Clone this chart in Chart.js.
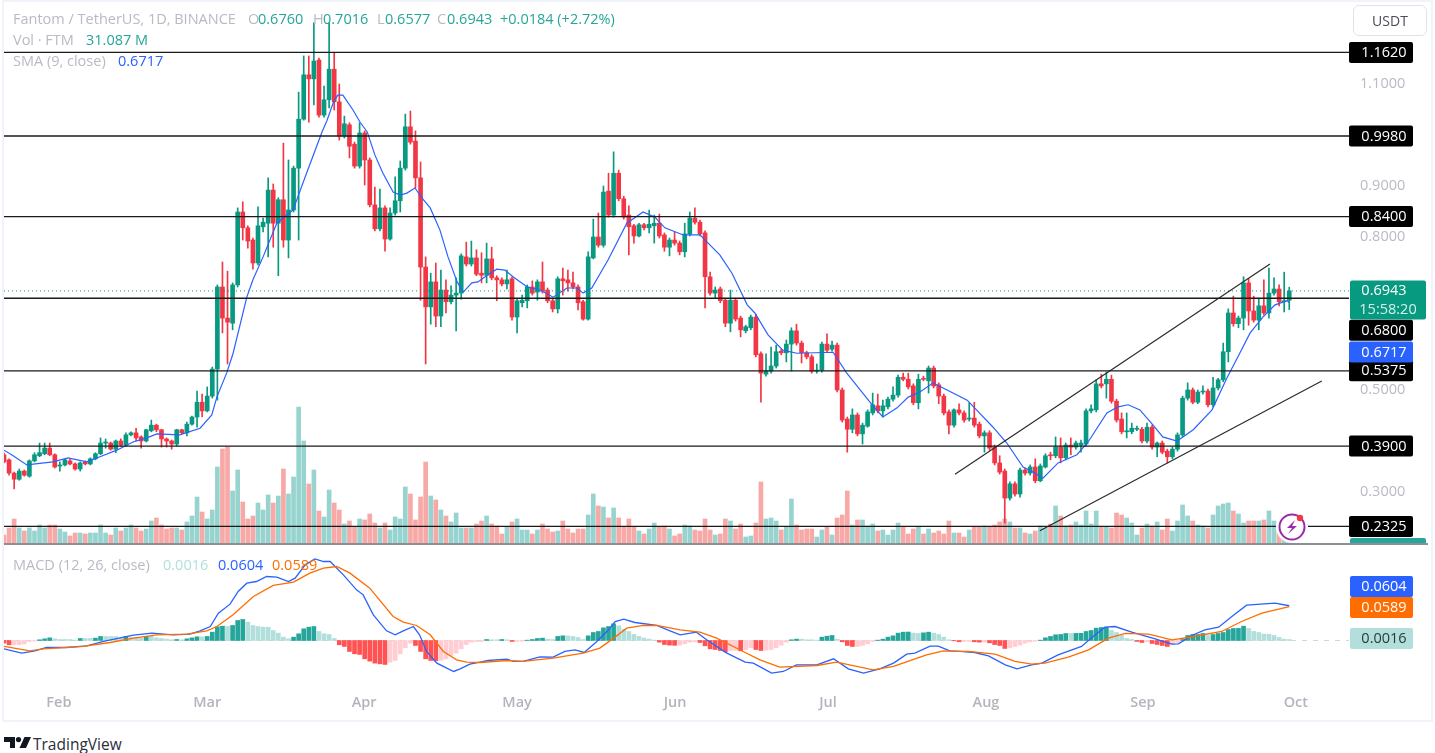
<!DOCTYPE html>
<html>
<head>
<meta charset="utf-8">
<title>Fantom / TetherUS</title>
<script src="https://cdn.jsdelivr.net/npm/chart.js@4/dist/chart.umd.min.js"></script>
<style>
  html, body { margin: 0; padding: 0; background: #fff; }
  body { position: relative; width: 1435px; height: 753px; overflow: hidden; font-family: "Open Sans", sans-serif; }
  canvas { position: absolute; left: 0; }
  #priceChart { top: 0; }
  #macdChart { top: 545px; }
  #frame { position: absolute; left: 2px; top: 0; width: 1427px; height: 718px; border: 2px solid #f0f3fa; pointer-events: none; }
  #divider { position: absolute; left: 4px; top: 543px; width: 1424px; height: 2px; background: #8d8f94; }
  .t { position: absolute; font-size: 14.5px; line-height: 20px; white-space: nowrap; }
  .g { color: #b8bbc4; }
  .teal { color: #26a69a; }
  .blue { color: #2962ff; }
  #usdt { position: absolute; left: 1353px; top: 5px; width: 72px; height: 29px; border: 1px solid #e0e3eb; border-radius: 6px; text-align: center; line-height: 29px; font-size: 14px; color: #4a4d57; }
  #bolt { position: absolute; left: 1275px; top: 510px; }
  #logo { position: absolute; left: 4px; top: 737px; }
  #brand { position: absolute; left: 33px; top: 733px; font-size: 15.5px; line-height: 22px; color: #2a2e39; }
</style>
</head>
<body>
<canvas id="priceChart" width="1435" height="544"></canvas>
<canvas id="macdChart" width="1435" height="177"></canvas>
<div id="frame"></div>
<div id="divider"></div>

<span class="t g" style="left:13px;top:9px">Fantom / TetherUS, 1D, BINANCE</span>
<span class="t g" style="left:248px;top:9px">O</span><span class="t teal" style="left:258px;top:9px">0.6760</span>
<span class="t g" style="left:313px;top:9px">H</span><span class="t teal" style="left:323px;top:9px">0.7016</span>
<span class="t g" style="left:377px;top:9px">L</span><span class="t teal" style="left:385px;top:9px">0.6577</span>
<span class="t g" style="left:437px;top:9px">C</span><span class="t teal" style="left:447px;top:9px">0.6943</span>
<span class="t teal" style="left:500px;top:9px">+0.0184 (+2.72%)</span>
<span class="t g" style="left:13px;top:30px">Vol · FTM</span><span class="t teal" style="left:86px;top:30px">31.087 M</span>
<span class="t g" style="left:13px;top:51px">SMA (9, close)</span><span class="t blue" style="left:118px;top:51px">0.6717</span>
<span class="t g" style="left:13px;top:555px">MACD (12, 26, close)</span>
<span class="t" style="left:163px;top:555px;color:#b2dfdb">0.0016</span>
<span class="t blue" style="left:218px;top:555px">0.0604</span>
<span class="t" style="left:272px;top:555px;color:#ff6d00">0.0589</span>
<div id="usdt">USDT</div>

<svg id="bolt" width="34" height="34" viewBox="0 0 34 34">
  <circle cx="17" cy="17" r="16" fill="#fff"/>
  <circle cx="17" cy="17" r="12.5" fill="#fff" stroke="#9c27b0" stroke-width="2"/>
  <path d="M20 10l-8 8h5l-4 6 9-8h-5z" fill="#9c27b0"/>
  <circle cx="25" cy="8" r="3.2" fill="#f23645"/>
</svg>
<svg id="logo" width="27" height="12" viewBox="0 0 27 12">
  <path d="M0 0h11v11H6V5H0z" fill="#131722"/>
  <circle cx="14.5" cy="2.6" r="2.6" fill="#131722"/>
  <path d="M20.5 0H27l-5 11h-6.5z" fill="#131722"/>
</svg>
<div id="brand">TradingView</div>

<script>
// candles, daily
const opens = [
  .373,.363,.337,.325,.341,.331,.361,.371,.375,.386,.373,.351,.353,.361,.355,.345,.359,.355,.365,.375,
  .396,.396,.384,.400,.392,.412,.416,.408,.400,.420,.431,.422,.404,.400,.394,.422,.416,.433,.447,.476,
  .459,.488,.541,.702,.641,.631,.706,.849,.818,.794,.749,.820,.827,.892,.827,.873,.794,.853,.935,1.031,
  1.118,1.110,1.147,1.039,1.069,1.129,1.065,.998,1.020,.982,.939,1.004,.951,.863,.816,.857,.796,.847,.871,.935,
  1.016,.988,.916,.741,.663,.712,.645,.696,.673,.686,.690,.761,.747,.759,.729,.725,.757,.720,.716,.708,
  .718,.643,.671,.675,.702,.692,.712,.696,.675,.659,.718,.716,.710,.702,.673,.639,.759,.800,.784,.890,
  .843,.925,.875,.843,.822,.802,.824,.818,.822,.827,.804,.780,.794,.788,.771,.806,.837,.829,.808,.722,
  .690,.698,.676,.631,.676,.641,.616,.622,.643,.571,.531,.537,.547,.576,.573,.590,.616,.592,.573,.565,
  .537,.539,.590,.580,.588,.500,.443,.423,.451,.414,.429,.455,.469,.459,.467,.482,.490,.525,.521,.508,
  .475,.523,.518,.543,.510,.488,.457,.431,.461,.455,.443,.445,.433,.410,.416,.388,.357,.341,.288,.316,
  .296,.343,.337,.349,.322,.349,.373,.371,.388,.367,.392,.388,.392,.394,.459,.461,.512,.512,.521,.478,
  .443,.418,.418,.423,.423,.400,.427,.388,.396,.380,.369,.384,.412,.484,.500,.476,.496,.498,.471,.504,
  .520,.575,.651,.630,.641,.710,.655,.637,.665,.651,.690,.698,.673,.676
];
const highs = [
  .377,.365,.339,.345,.343,.363,.377,.396,.396,.396,.375,.359,.365,.365,.357,.359,.361,.367,.377,.406,
  .404,.398,.402,.404,.416,.418,.425,.410,.423,.441,.433,.423,.406,.402,.423,.423,.437,.449,.498,.492,
  .506,.545,.706,.751,.733,.710,.857,.869,.822,.798,.859,.837,.916,.904,.877,.984,.951,.939,1.084,1.155,
  1.155,1.220,1.151,1.096,1.220,1.161,1.100,1.037,1.024,.986,1.024,1.008,.955,.898,.894,.861,.857,.918,.949,1.041,
  1.047,1.008,.947,.761,.729,.749,.735,.716,.704,.720,.767,.790,.792,.775,.769,.788,.780,.724,.720,.735,
  .722,.678,.686,.706,.714,.716,.751,.700,.678,.722,.739,.735,.731,.706,.676,.771,.835,.847,.900,.925,
  .967,.931,.880,.861,.825,.827,.827,.853,.843,.845,.808,.798,.810,.792,.827,.849,.857,.833,.812,.731,
  .702,.702,.680,.696,.680,.645,.627,.647,.649,.575,.571,.584,.588,.580,.598,.622,.629,.596,.576,.569,
  .551,.594,.610,.596,.592,.504,.447,.463,.455,.435,.461,.494,.492,.480,.486,.506,.529,.533,.533,.512,
  .531,.527,.547,.547,.514,.492,.461,.463,.473,.459,.475,.476,.437,.420,.420,.392,.371,.345,.320,.320,
  .347,.347,.353,.365,.355,.375,.378,.408,.406,.396,.406,.400,.402,.463,.471,.520,.531,.535,.529,.482,
  .455,.455,.435,.429,.427,.435,.431,.398,.400,.384,.388,.416,.488,.514,.504,.500,.508,.502,.525,.523,
  .592,.659,.684,.645,.722,.718,.684,.680,.716,.739,.720,.706,.731,.7016
];
const lows = [
  .357,.333,.306,.323,.331,.329,.359,.369,.373,.371,.347,.341,.351,.353,.343,.341,.353,.353,.363,.373,
  .386,.382,.377,.390,.390,.410,.400,.386,.398,.418,.418,.388,.388,.384,.390,.414,.410,.431,.427,.447,
  .457,.484,.480,.612,.551,.618,.702,.794,.778,.737,.745,.810,.761,.780,.724,.780,.759,.849,.794,1.029,
  1.025,1.059,1.035,1.035,1.053,1.049,.990,.994,.955,.935,.935,.902,.859,.812,.812,.772,.794,.843,.849,.931,
  .982,.896,.676,.551,.629,.624,.624,.651,.669,.616,.678,.743,.743,.724,.710,.710,.716,.675,.704,.698,
  .637,.612,.663,.661,.686,.676,.690,.671,.653,.651,.686,.694,.698,.657,.637,.637,.757,.780,.780,.839,
  .839,.871,.835,.765,.788,.800,.814,.808,.788,.798,.772,.763,.784,.765,.761,.802,.825,.802,.661,.686,
  .680,.671,.624,.614,.635,.604,.612,.618,.565,.476,.527,.533,.543,.569,.555,.537,.588,.553,.561,.533,
  .533,.535,.575,.576,.496,.437,.378,.416,.410,.394,.427,.451,.455,.447,.463,.478,.486,.518,.502,.471,
  .463,.518,.494,.504,.473,.451,.414,.427,.451,.437,.439,.427,.406,.378,.382,.353,.335,.239,.284,.292,
  .290,.333,.333,.318,.320,.347,.363,.367,.357,.363,.373,.384,.378,.390,.455,.457,.504,.484,.474,.437,
  .414,.406,.414,.420,.396,.396,.384,.369,.375,.357,.365,.380,.408,.480,.473,.473,.492,.467,.467,.500,
  .516,.555,.625,.622,.618,.627,.633,.618,.647,.641,.686,.665,.653,.6577
];
const closes = [
  .359,.337,.325,.341,.333,.361,.373,.377,.386,.373,.349,.353,.363,.355,.345,.357,.355,.365,.375,.396,
  .398,.384,.400,.392,.412,.416,.406,.400,.422,.431,.422,.404,.400,.394,.422,.416,.433,.447,.476,.459,
  .488,.541,.702,.641,.633,.706,.849,.818,.792,.749,.822,.829,.892,.827,.873,.794,.853,.935,1.031,1.118,
  1.110,1.145,1.039,1.069,1.129,1.065,.998,1.022,.978,.939,1.004,.951,.863,.816,.857,.796,.847,.871,.935,1.016,
  .986,.916,.741,.663,.712,.645,.696,.673,.686,.690,.763,.747,.759,.727,.725,.757,.720,.716,.708,.716,
  .643,.675,.676,.702,.690,.712,.694,.675,.659,.718,.714,.710,.702,.671,.639,.761,.800,.784,.888,.843,
  .925,.875,.839,.820,.802,.824,.818,.825,.827,.802,.780,.794,.788,.771,.806,.837,.829,.806,.722,.690,
  .696,.675,.631,.676,.639,.618,.624,.643,.569,.533,.537,.547,.575,.573,.590,.616,.592,.573,.565,.537,
  .539,.590,.578,.588,.500,.441,.423,.451,.414,.431,.457,.471,.459,.469,.482,.490,.525,.521,.506,.475,
  .521,.521,.543,.508,.488,.455,.431,.461,.455,.441,.445,.431,.410,.416,.386,.357,.339,.288,.316,.296,
  .343,.337,.349,.322,.351,.371,.371,.388,.367,.392,.388,.396,.396,.459,.463,.512,.508,.521,.478,.441,
  .418,.420,.425,.425,.400,.427,.388,.396,.378,.369,.384,.412,.484,.500,.476,.496,.498,.471,.504,.520,
  .575,.651,.630,.641,.710,.655,.637,.665,.651,.690,.698,.673,.675,.6943
];
// volume, in units of roughly 15.5M
const volumes = [
  9,16,25,16,13,16,13,19,16,19,19,15,12,8,11,11,10,11,11,19,
  11,9,16,13,16,19,16,13,15,23,26,19,15,16,16,14,22,28,47,32,
  25,34,77,95,97,53,74,42,25,28,41,34,49,41,48,75,50,67,137,103,
  60,74,33,27,54,41,34,20,23,17,25,24,30,21,16,21,14,27,25,57,
  50,24,47,82,48,44,34,28,22,31,16,16,16,20,23,28,20,18,
  10,17,22,25,14,14,10,14,20,15,12,13,23,15,11,15,15,29,50,38,
  37,26,36,26,17,25,17,13,10,15,21,17,18,15,8,10,19,18,14,13,
  25,14,9,10,25,23,15,20,7,8,21,62,25,26,23,14,17,45,19,14,
  15,15,7,14,17,9,26,29,53,19,24,24,18,20,13,14,9,14,21,17,
  10,15,17,10,15,11,13,10,23,11,11,7,14,17,17,18,17,19,22,
  25,22,16,16,11,10,13,18,16,20,38,28,18,19,22,19,33,20,33,17,
  17,16,31,29,26,21,9,16,20,18,22,14,25,13,23,39,28,23,19,18,
  16,29,38,40,41,33,30,21,23,23,23,24,33,23,13,5,2
];
const smaDays = [
  0,1.8,4.5,9.6,12.6,16.3,18.9,22.2,25.4,28.1,30.1,34.6,38.6,40.9,41.9,43.9,45.1,47.8,49,51,53.7,56.9,59.3,62.6,63.6,
  64.8,65.7,66.7,68.7,70.1,71.5,73,74.6,76.6,78,79.3,80.9,82.3,83.9,85.8,87.4,89.2,90.4,92.1,93.3,95.1,97,98.6,100.2,103,
  105.5,108.1,110.8,112.8,114,115.7,118.9,122.6,125.8,128.1,130.1,133.7,137,138.4,140.9,143.3,146.3,147.8,150.4,153.3,156.1,163.2,165.9,170.9,173,
  175.8,178,180.3,182.9,186.8,189.6,194.7,197.4,200.6,202.6,204.5,207.5,211.2,213.4,217.1,219.3,221.3,223.6,226.2,228.1,230.9,234.1,237.8,240.7,242.9,
  245.3,247.8,250.2,252.6,253
];
const smaValues = [
  .382,.371,.353,.359,.367,.359,.369,.382,.398,.406,.414,.412,.425,.451,.486,.535,.572,.682,.716,.761,.827,.853,.918,1.006,1.029,
  1.063,1.078,1.078,1.049,1.025,1.006,.961,.925,.888,.882,.886,.896,.876,.857,.814,.761,.712,.692,.710,.712,.725,.737,.735,.722,.702,
  .696,.682,.700,.700,.690,.700,.755,.827,.849,.839,.818,.804,.804,.790,.765,.729,.667,.651,.608,.578,.572,.574,.533,.471,.447,
  .465,.486,.496,.514,.494,.480,.427,.396,.349,.339,.327,.357,.373,.398,.455,.467,.471,.461,.431,.408,.400,.422,.461,.523,.565,
  .612,.643,.667,.675,.6717
];

// horizontal levels and the channel drawn by hand on the chart
const levels = [1.162, .998, .84, .68, .5375, .39, .2325];
const lastPrice = .6943;
const channelUpperDays = [187.2, 249.2];
const channelUpperPrices = [.335, .747];
const channelLowerDays = [203.9, 259.4];
const channelLowerPrices = [.224, .5176];
const priceTicks = [1.1, .9, .8, .5, .3];

// MACD panel
const histValues = [
  -.0046,-.0075,-.0075,-.0075,-.0058,-.0017,-.0012,.0012,.0029,.0046,.0029,.0017,.0017,.0017,.0006,.0035,.0035,.0035,.0041,.0070,
  .0070,.0070,.0070,.0046,.0070,.0052,.0052,.0041,.0070,.0070,.0046,.0035,.0023,.0012,.0017,.0012,.0029,.0046,.0064,.0064,
  .0070,.0145,.0238,.0249,.0243,.0261,.0348,.0365,.0319,.0261,.0243,.0232,.0232,.0174,.0128,.0058,.0029,.0058,.0116,.0203,
  .0232,.0243,.0157,.0116,.0104,.0035,-.0075,-.0104,-.0191,-.0232,-.0243,-.0319,-.0359,-.0394,-.0406,-.0417,-.0377,-.0348,-.0232,-.0128,
  -.0046,-.0087,-.0191,-.0319,-.0348,-.0354,-.0348,-.0319,-.0261,-.0220,-.0145,-.0070,-.0029,-.0017,
  -.0017,.0017,.0012,.0012,.0017,.0012,-.0017,-.0017,-.0012,.0006,
  .0017,.0035,.0041,.0023,.0017,.0070,.0081,.0081,.0070,.0052,
  .0017,.0081,.0139,.0157,.0220,.0243,.0290,.0255,.0197,.0157,
  .0104,.0070,.0041,.0023,.0006,-.0029,-.0070,-.0081,-.0084,-.0081,
  -.0058,-.0029,-.0023,-.0035,-.0093,-.0145,-.0157,-.0174,-.0197,-.0174,
  -.0174,-.0179,-.0157,-.0128,-.0157,-.0174,-.0170,-.0157,-.0128,
  -.0081,-.0029,.0012,.0023,.0023,.0012,.0012,.0006,.0058,.0075,
  .0087,.0023,-.0023,-.0087,-.0104,-.0104,-.0087,-.0058,-.0017,.0006,
  .0023,.0058,.0081,.0128,.0145,.0147,.0128,.0122,.0133,.0145,
  .0128,.0104,.0058,.0012,-.0006,-.0023,
  -.0017,-.0017,-.0023,-.0029,-.0029,-.0041,-.0070,-.0087,-.0139,-.0128,-.0104,-.0081,-.0046,-.0023,-.0012,
  .0006,.0046,.0070,.0099,.0104,.0122,.0122,.0123,.0124,.0157,.0174,.0214,.0226,.0227,
  .0174,.0139,.0087,.0035,.0017,-.0017,-.0035,-.0023,-.0052,-.0070,-.0087,-.0104,-.0070,-.0035,.0017,.0087,.0104,.0105,.0122,.0087,
  .0104,.0122,.0139,.0191,.0209,.0210,.0249,.0209,.0157,.0139,.0110,.0109,.0087,.0052,.0023,.0016
];
const macdDays = [
  0,3.5,6.1,8.4,12.3,16.3,19.6,23.8,25.5,29.1,33.3,36.6,38.6,40.6,42.2,44.5,46.1,47.8,49.7,51.7,53.7,56,57.3,59.3,61.2,62.9,64.2,
  66.8,69.4,70.7,72.7,75.3,77,78.6,80.6,81.8,83.2,85.2,88.5,89.8,91.7,93.7,95.3,99,100.3,102.2,105.5,108.1,110.4,112.4,114.2,116.7,119,120.3,122,124.2,
  128.5,131.1,133.1,136.3,138.3,142.3,145.9,147.5,151.1,153.4,156,160,163.3,166.2,169.2,172.4,175.1,177.7,179.3,182.3,183.9,186.2,188.2,
  191.1,193.8,197.1,199.4,202.3,204.3,207.5,212.1,214.8,216.7,218.7,222,226.6,229.9,231.2,233.8,236.4,239.1,241.7,244.6,250.2,253
];
const macdValues = [
  -.0145,-.0220,-.0180,-.0122,-.0122,-.0093,-.0017,.0064,.0093,.0128,.0099,.0110,.0168,.0243,.0475,.0632,.0852,.0997,.1026,.1113,.1101,.1026,.1084,.1316,.1420,.1374,.1374,
  .1142,.0881,.0794,.0446,.0168,.0099,.0168,.0243,.0099,-.0191,-.0394,-.0539,-.0493,-.0412,-.0377,-.0348,-.0325,-.0365,-.0365,-.0284,-.0290,-.0191,-.0162,-.0209,-.0017,.0186,.0330,.0371,.0313,
  .0261,.0168,.0099,.0145,.0012,-.0220,-.0377,-.0394,-.0568,-.0539,-.0423,-.0423,-.0319,-.0493,-.0568,-.0493,-.0394,-.0238,-.0220,-.0099,-.0099,-.0180,-.0191,
  -.0209,-.0267,-.0423,-.0493,-.0423,-.0394,-.0249,-.0104,.0099,.0232,.0243,.0145,.0029,-.0064,-.0058,.0087,.0186,.0232,.0417,.0614,.0649,.0604
];
const signalDays = [
  0,5.1,7.7,15.6,20.9,25.5,30.1,36,39.9,41.9,45.1,49.1,53,57,60.2,62.9,65.5,68.1,72,76.6,78.6,81.2,83.9,86.5,89.1,91.1,93.7,
  99,102.2,108.1,114,117.3,120,122.6,125.8,128.5,133.1,137,140.3,145.5,148.8,152.7,160,163.9,171.1,175.1,181.6,184.9,188.2,
  189.8,195.1,199,202.3,204.9,209.5,213.5,217.4,220.7,225.3,229.9,233.1,239.7,243.6,247.6,253
];
const signalValues = [
  -.0104,-.0180,-.0145,-.0104,-.0035,.0041,.0099,.0110,.0168,.0243,.0446,.0765,.0957,.1014,.1171,.1258,.1287,.1171,.0910,.0417,.0319,.0261,.0099,-.0191,-.0336,-.0377,-.0383,
  -.0348,-.0365,-.0307,-.0220,-.0133,.0041,.0214,.0261,.0261,.0186,.0145,.0041,-.0191,-.0336,-.0464,-.0435,-.0377,-.0510,-.0452,-.0249,-.0180,-.0191,
  -.0191,-.0238,-.0365,-.0412,-.0394,-.0290,-.0162,.0041,.0122,.0110,.0012,.0052,.0157,.0330,.0475,.0589
];
const monthDays = [10.8, 40, 70.9, 101, 132.1, 162.2, 193.3, 224.2, 254.3];
const monthLabels = ['Feb', 'Mar', 'Apr', 'May', 'Jun', 'Jul', 'Aug', 'Sep', 'Oct'];

const GREEN = '#089981';
const RED = '#f23645';
const FONT = '"Open Sans", sans-serif';
const X_MAX = 264.76;
const AXIS_W = 86;

Chart.defaults.animation = false;
Chart.defaults.font.family = FONT;

const pairs = (xs, ys) => xs.map((x, i) => ({ x, y: ys[i] }));
const across = v => [{ x: 0, y: v }, { x: X_MAX, y: v }];
const isUp = i => closes[i] >= opens[i];

function lineSet(data, color, width, order, yAxisID, extra) {
  return Object.assign({
    type: 'line', data, borderColor: color, borderWidth: width,
    pointRadius: 0, tension: 0, order, yAxisID
  }, extra || {});
}

function tag(ctx, x, y, w, h, fill) {
  ctx.fillStyle = fill;
  ctx.beginPath();
  ctx.roundRect(x, y, w, h, 2);
  ctx.fill();
}

function tagText(ctx, text, cx, y, color) {
  ctx.fillStyle = color;
  ctx.font = '14.5px ' + FONT;
  ctx.textAlign = 'center';
  ctx.textBaseline = 'middle';
  ctx.fillText(text, cx, y);
}

// black level labels, some pushed down so they don't overlap, as on the original
const levelShift = { 0.68: 32 };
const priceTags = {
  id: 'priceTags',
  afterDraw(chart) {
    const { ctx, scales } = chart;
    ctx.save();
    levels.forEach(v => {
      const y = scales.y.getPixelForValue(v) + (levelShift[v] || 0);
      tag(ctx, 1349, y - 10.5, 64, 21, '#000');
      tagText(ctx, v.toFixed(4), 1384, y + 0.5, '#fff');
    });
    const lastY = scales.y.getPixelForValue(lastPrice);
    tag(ctx, 1350, lastY - 10.5, 76, 39, '#089981');
    tagText(ctx, lastPrice.toFixed(4), 1384, lastY, '#fff');
    tagText(ctx, '15:58:20', 1388, lastY + 19, '#d6efe9');
    tag(ctx, 1349, 352 - 10.5, 64, 21, '#2962ff');
    tagText(ctx, smaValues[smaValues.length - 1].toFixed(4), 1384, 352.5, '#fff');
    tag(ctx, 1350, 538, 76, 7, '#26a69a');
    ctx.restore();
  }
};

new Chart(document.getElementById('priceChart'), {
  type: 'bar',
  plugins: [priceTags],
  data: {
    datasets: [
      {
        data: pairs(opens.map((_, i) => i), volumes), yAxisID: 'yVol', order: 9, grouped: false, barThickness: 4,
        backgroundColor: opens.map((_, i) => isUp(i) ? 'rgba(38,166,154,.48)' : 'rgba(239,83,80,.5)')
      },
      {
        data: opens.map((_, i) => ({ x: i, y: [lows[i], highs[i]] })), yAxisID: 'y', order: 6, grouped: false, barThickness: 1,
        backgroundColor: opens.map((_, i) => isUp(i) ? GREEN : RED)
      },
      {
        data: opens.map((_, i) => ({ x: i, y: [opens[i], closes[i]] })), yAxisID: 'y', order: 5, grouped: false, barThickness: 4, minBarLength: 1,
        backgroundColor: opens.map((_, i) => isUp(i) ? GREEN : RED)
      },
      lineSet(pairs(smaDays, smaValues), '#2962ff', 1.2, 4, 'y'),
      lineSet(across(lastPrice), '#089981', 1, 3, 'y', { borderDash: [1, 3] }),
      ...levels.map(v => lineSet(across(v), '#1a1a1a', 1.4, 1, 'y')),
      lineSet(pairs(channelUpperDays, channelUpperPrices), '#2b2b2b', 1.2, 1, 'y'),
      lineSet(pairs(channelLowerDays, channelLowerPrices), '#2b2b2b', 1.2, 1, 'y')
    ]
  },
  options: {
    responsive: false,
    layout: { autoPadding: false, padding: { left: 4, top: 0, right: 0, bottom: 0 } },
    plugins: { legend: { display: false }, tooltip: { enabled: false } },
    scales: {
      x: { type: 'linear', display: false, min: 0, max: X_MAX, offset: false, grid: { offset: false } },
      y: {
        position: 'right', min: 0.198, max: 1.2647,
        // tick padding otherwise eats into the plot height
        afterFit(axis) { axis.width = AXIS_W; axis.paddingTop = 0; axis.paddingBottom = 0; },
        afterBuildTicks(axis) { axis.ticks = priceTicks.map(value => ({ value })); },
        grid: { display: false, drawTicks: false },
        border: { display: false },
        ticks: {
          autoSkip: false, padding: 11, color: '#b8bbc4', font: { size: 14.5 },
          callback: v => v.toFixed(4)
        }
      },
      yVol: { display: false, min: 0, max: 544 }
    }
  }
});

const histColors = histValues.map((v, i) => {
  const prev = i ? histValues[i - 1] : 0;
  if (v >= 0) return v > prev ? '#26a69a' : '#b2dfdb';
  return v < prev ? '#ff5252' : '#ffcdd2';
});

const macdTags = {
  id: 'macdTags',
  afterDraw(chart) {
    const { ctx } = chart;
    ctx.save();
    tag(ctx, 1350, 31, 63, 21, '#2962ff');
    tagText(ctx, macdValues[macdValues.length - 1].toFixed(4), 1384, 41.5, '#fff');
    tag(ctx, 1350, 52, 63, 21, '#ff6d00');
    tagText(ctx, signalValues[signalValues.length - 1].toFixed(4), 1384, 62.5, '#fff');
    tag(ctx, 1350, 83, 63, 21, '#b2dfdb');
    tagText(ctx, histValues[histValues.length - 1].toFixed(4), 1384, 94, '#2a3a3a');
    ctx.restore();
  }
};

new Chart(document.getElementById('macdChart'), {
  type: 'bar',
  plugins: [macdTags],
  data: {
    datasets: [
      lineSet(across(0), '#d1d4dc', 1, 6, 'y', { borderDash: [5, 6] }),
      {
        data: pairs(histValues.map((_, i) => i), histValues), order: 5, grouped: false, barThickness: 4,
        backgroundColor: histColors
      },
      lineSet(pairs(macdDays, macdValues), '#2962ff', 1.3, 2, 'y'),
      lineSet(pairs(signalDays, signalValues), '#ff6d00', 1.3, 1, 'y')
    ]
  },
  options: {
    responsive: false,
    layout: { autoPadding: false, padding: { left: 4, top: 0, right: 0, bottom: 0 } },
    plugins: { legend: { display: false }, tooltip: { enabled: false } },
    scales: {
      x: {
        type: 'linear', min: 0, max: X_MAX, offset: false,
        afterFit(axis) { axis.height = 38; axis.paddingLeft = 0; axis.paddingRight = 0; },
        afterBuildTicks(axis) { axis.ticks = monthDays.map(value => ({ value })); },
        grid: { display: false, drawTicks: false, offset: false },
        border: { display: false },
        ticks: {
          autoSkip: false, maxRotation: 0, padding: 10, color: '#b2b5be', font: { size: 14.5, weight: '600' },
          callback: v => monthLabels[monthDays.indexOf(v)]
        }
      },
      y: {
        position: 'right', min: -0.0757, max: 0.1661,
        afterFit(axis) { axis.width = AXIS_W; axis.paddingTop = 0; axis.paddingBottom = 0; },
        grid: { display: false, drawTicks: false },
        border: { display: false },
        ticks: { display: false }
      }
    }
  }
});
</script>
</body>
</html>
